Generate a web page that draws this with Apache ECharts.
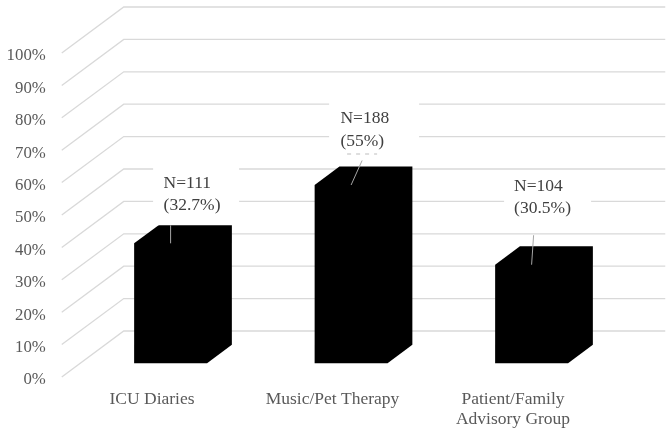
<!DOCTYPE html>
<html>
<head>
<meta charset="utf-8">
<style>html,body{margin:0;padding:0;background:#fff}#c{width:666px;height:428px}</style>
<script src="https://cdn.jsdelivr.net/npm/echarts@6/dist/echarts.min.js"></script>
</head>
<body>
<div id="c"></div>
<script>
const categories = ['ICU Diaries', 'Music/Pet Therapy', 'Patient/Family\nAdvisory Group'];
const values = [37, 55, 30.4];
const countLabels = ['N=111', 'N=188', 'N=104'];
const shareLabels = ['(32.7%)', '(55%)', '(30.5%)'];
const gridTicks = [0, 10, 20, 30, 40, 50, 60, 70, 80, 90, 100];

// Layout (pixels) of the oblique 3-D projection and of the call-outs
const DEPTH_X = 62, DEPTH_Y = -46;
const BAR_NEAR = 0.3, BAR_FAR = 0.7, BAR_RATIO = 0.404;
const callouts = [
  {box: [-17.5, -77, 86, 59], text: [-7, -60, -38], end: [0, -18]},
  {box: [-22, -90, 90, 65], text: [-10.7, -67, -44], end: [11, -24.5]},
  {box: [-27.5, -90, 87, 56], text: [-17.5, -78, -56], end: [2, -29.5]}
];
const SERIF = '"Liberation Serif","Times New Roman",serif';
const GRID_COLOR = '#d9d9d9', TEXT_GRAY = '#595959', TEXT_DARK = '#404040', LEADER = '#a6a6a6';

const proj = (p, d) => [p[0] + d * DEPTH_X, p[1] + d * DEPTH_Y];

function renderWall(params, api) {
  const v = api.value(0);
  const a = api.coord([0, v]);
  const left = params.coordSys.x;
  const right = left + params.coordSys.width;
  const y = a[1];
  return {
    type: 'polyline',
    shape: {points: [[left, y], proj([left, y], 1), proj([right, y], 1)]},
    style: {stroke: GRID_COLOR, lineWidth: 1.3, fill: null},
    silent: true
  };
}

function renderBar(params, api) {
  const cat = api.value(0);
  const top = api.coord([cat, api.value(1)]);
  const base = api.coord([cat, 0]);
  const half = api.size([1, 0])[0] * BAR_RATIO / 2;
  const pts = [
    proj([top[0] - half, base[1]], BAR_NEAR),
    proj([top[0] - half, top[1]], BAR_NEAR),
    proj([top[0] - half, top[1]], BAR_FAR),
    proj([top[0] + half, top[1]], BAR_FAR),
    proj([top[0] + half, base[1]], BAR_FAR),
    proj([top[0] + half, base[1]], BAR_NEAR)
  ];
  return {type: 'polygon', shape: {points: pts}, style: {fill: '#000'}};
}

function renderCallout(params, api) {
  const i = params.dataIndex;
  const cat = api.value(0);
  const top = api.coord([cat, api.value(1)]);
  const a = proj(top, BAR_NEAR);
  const c = callouts[i];
  const kids = [
    {type: 'rect', shape: {x: a[0] + c.box[0], y: a[1] + c.box[1], width: c.box[2], height: c.box[3]},
     style: {fill: '#fff'}},
    {type: 'line', shape: {x1: a[0], y1: a[1], x2: a[0] + c.end[0], y2: a[1] + c.end[1]},
     style: {stroke: LEADER, lineWidth: 1}},
    {type: 'text', x: a[0] + c.text[0], y: a[1] + c.text[1],
     style: {text: countLabels[i], font: '17.5px ' + SERIF, fill: TEXT_DARK, textAlign: 'left', textVerticalAlign: 'middle'}},
    {type: 'text', x: a[0] + c.text[0], y: a[1] + c.text[2],
     style: {text: shareLabels[i], font: '17.5px ' + SERIF, fill: TEXT_DARK, textAlign: 'left', textVerticalAlign: 'middle'}}
  ];
  if (i === 1) {
    kids.push({type: 'line', shape: {x1: a[0] - 4, y1: a[1] - 31, x2: a[0] + 26, y2: a[1] - 31},
      style: {stroke: '#bdbdbd', lineWidth: 1, lineDash: [4, 5]}});
  }
  return {type: 'group', children: kids};
}

const chart = echarts.init(document.getElementById('c'), null, {renderer: 'canvas'});
chart.setOption({
  animation: false,
  backgroundColor: '#fff',
  grid: {left: 61.75, right: 62.75, top: 53, bottom: 51, outerBoundsMode: 'none'},
  xAxis: {
    type: 'category', data: categories,
    axisLine: {show: false}, axisTick: {show: false}, splitLine: {show: false},
    axisLabel: {color: TEXT_GRAY, fontFamily: SERIF, fontSize: 17.5, margin: 12, lineHeight: 20, interval: 0}
  },
  yAxis: {
    type: 'value', min: 0, max: 100, interval: 10,
    axisLine: {show: false}, axisTick: {show: false}, splitLine: {show: false},
    axisLabel: {
      margin: 16, formatter: '{t|{value}%}',
      rich: {t: {color: TEXT_GRAY, fontFamily: SERIF, fontSize: 16.8, padding: [6, 0, 0, 0]}}
    }
  },
  series: [
    {type: 'custom', name: 'walls', z: 1, clip: false, silent: true,
     coordinateSystem: 'cartesian2d', encode: {y: 0},
     data: gridTicks.map(t => [t]),
     renderItem: renderWall},
    {type: 'custom', name: 'bars', z: 2, clip: false,
     encode: {x: 0, y: 1},
     data: values.map((v, i) => [i, v]),
     renderItem: renderBar},
    {type: 'custom', name: 'callouts', z: 3, clip: false, silent: true,
     encode: {x: 0, y: 1},
     data: values.map((v, i) => [i, v]),
     renderItem: renderCallout}
  ]
});
</script>
</body>
</html>
